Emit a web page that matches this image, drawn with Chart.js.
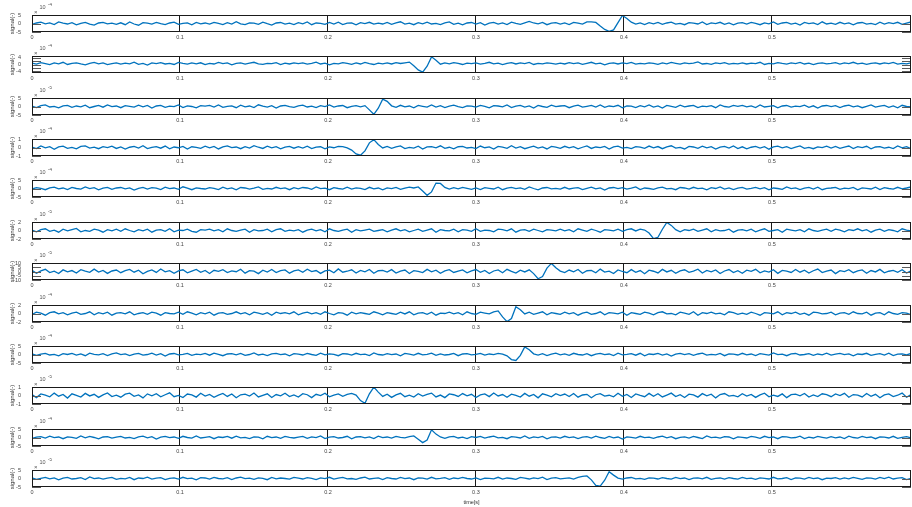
<!DOCTYPE html>
<html>
<head>
<meta charset="utf-8">
<script src="https://cdn.jsdelivr.net/npm/chart.js@4.4.0/dist/chart.umd.min.js"></script>
<style>
  html, body { margin: 0; padding: 0; background: #fff; }
  #wrap { position: relative; width: 912px; height: 507px; overflow: hidden; }
</style>
</head>
<body>
<div id="wrap"></div>
<script>
// 12 stacked channels, sampled every 3 ms (values in units of the axis exponent)
const dt = 0.003;
const tMax = 0.594;
const xTicks = [0, 0.1, 0.2, 0.3, 0.4, 0.5];

const sig1 = [
  -0.5, 0.3, 0.8, -0.2, 0.4, -0.6, 0.9, 0.2, -0.3, 0.5, -0.8, 0.1, 0.6, -0.4, -0.9, 0.3, 0.7, -0.2, 0.2, -0.5,
  0.4, -0.7, 0.9, -0.3, -1.0, 0.5, 0.2, -0.4, 0.6, -0.1, -0.6, 0.3, 0.8, -0.5, 0.1, 0.4, -0.8, 0.6, -0.2, 0.3,
  -0.4, 0.7, 0.1, -0.6, 0.5, -0.3, 1.1, -0.2, -0.7, 0.4, 0.2, -0.5, 0.8, -0.1, -0.9, 0.3, 0.6, -0.4, 0.2, -0.6,
  0.5, -0.2, 0.9, -0.7, 0.3, 0.1, -0.5, 0.6, -0.3, 0.8, -0.6, 0.2, 0.4, -0.8, 0.5, -0.1, 0.7, -0.4, 0.2, -0.3,
  0.6, -0.5, 0.3, 1.0, -0.4, 0.2, -0.7, 0.5, -0.2, 0.8, -0.3, 0.1, -0.6, 0.4, 0.9, -0.5, 0.2, -0.8, 0.3, 0.6,
  -0.3, 0.5, -0.9, 0.2, 0.7, -0.4, 0.3, -0.6, 0.8, 0.1, -0.5, 0.4, 1.2, 0.3, -0.2, 0.6, -0.7, 0.2, 0.5, -0.4,
  0.3, -0.6, 0.7, 0.2, -0.4, 0.9, 1.0, 0.6, -1.5, -3.5, -4.6, -3.8, 0.5, 4.7, 3.0, 0.8, -0.3, 0.4, -0.6, 0.5,
  -0.2, 0.6, -0.5, 0.3, 0.8, -0.4, 0.1, -0.7, 0.5, 0.2, -0.3, 0.9, -0.6, 0.4, -0.1, 0.7, -0.5, 0.3, -0.8, 0.2,
  0.5, -0.3, 0.6, 0.1, -0.7, 0.4, -0.2, 0.9, -0.5, 0.3, 0.7, -0.4, 0.2, -0.9, 0.6, -0.1, 0.4, -0.6, 1.0, -0.3,
  0.2, -0.5, 0.7, -0.2, 0.4, -0.8, 0.3, 0.6, -0.4, 0.1, -0.6, 0.8, -0.3, 0.5, -0.1, 0.7, -0.5, 0.2, 0.9, -0.4
];
const sig2 = [
  0.8, 0.2, 1.1, 0.5, -0.1, 0.9, 0.4, 1.3, 0.0, 0.6, 1.0, 0.3, -0.2, 0.7, 1.2, 0.4, 0.9, -0.1, 0.5, 1.0,
  0.2, 0.8, 0.4, 1.4, 0.1, 0.6, -0.3, 0.9, 0.5, 1.1, 0.3, 0.7, 0.0, 1.2, 0.6, 0.2, 0.9, 0.4, 1.0, -0.1,
  0.7, 0.3, 1.2, 0.5, 0.9, -0.2, 0.6, 1.0, 0.2, 0.8, 1.3, 0.4, 0.1, 0.7, 0.5, 1.1, -0.1, 0.8, 0.3, 0.9,
  0.5, 1.0, 0.2, 0.6, 1.4, 0.3, 0.8, -0.2, 0.7, 0.4, 1.1, 0.6, 0.1, 0.9, 0.3, 1.2, 0.5, 0.0, 0.8, 0.4,
  0.9, 0.3, 1.1, 0.6, 1.0, 1.4, -0.8, -3.2, -4.5, -1.0, 4.5, 2.5, 0.2, 0.9, 0.4, 1.1, 0.6, 0.0, 0.8, 0.5,
  1.0, 0.2, 0.7, 1.3, 0.4, 0.8, -0.1, 0.6, 1.1, 0.3, 0.9, 0.5, 1.2, 0.0, 0.7, 0.4, 1.0, 0.6, 0.2, 0.8,
  0.3, 1.1, 0.5, 0.9, 0.1, 0.7, 1.3, 0.4, 0.8, -0.2, 0.6, 1.0, 0.3, 0.9, 0.5, 1.2, 0.2, 0.7, 0.4, 1.0,
  0.6, 0.1, 0.9, 0.4, 1.2, 0.7, 0.2, 1.0, 0.5, 0.8, 1.5, 0.3, 0.6, 0.1, 0.9, 0.5, 1.1, 0.2, 0.7, 0.4,
  1.0, 0.3, 0.8, 0.5, 1.3, 0.0, 0.7, 0.4, 1.1, 0.6, 0.2, 0.9, 0.5, 1.2, 0.3, 0.8, -0.1, 0.6, 1.0, 0.4,
  0.7, 1.1, 0.2, 0.9, 0.5, 1.3, 0.4, 0.8, 0.1, 0.6, 1.0, 0.3, 0.9, 0.5, 1.2, 0.2, 0.7, 0.4, 1.0, 0.6
];
const sig3 = [
  0.2, -0.6, 0.5, 0.9, -0.3, 0.1, -0.8, 0.4, 0.7, -0.5, 0.3, -0.2, 0.8, -0.7, 0.0, 0.6, -0.4, 0.9, -0.1, 0.3,
  -0.7, 0.5, 0.1, -0.4, 0.8, -0.2, 0.6, -0.9, 0.3, 0.7, -0.5, 0.2, -0.1, 0.9, -0.6, 0.4, 0.0, -0.8, 0.5, 0.2,
  0.6, -0.3, 0.9, -0.5, 0.1, 0.4, -0.7, 0.8, -0.2, 0.3, -0.6, 1.0, 0.2, -0.4, 0.5, -0.9, 0.3, 0.7, -0.1, -0.5,
  0.4, 0.8, -0.3, 0.2, -0.6, 0.5, -0.1, 0.9, -0.4, 0.3, 0.6, -0.7, 0.1, 0.5, -0.2, 0.5, -2.0, -4.6, -1.0, 4.3,
  3.0, 0.4, -0.5, 0.7, -0.2, 0.3, -0.8, 0.6, 0.1, -0.4, 0.9, -0.3, 0.5, -0.6, 0.2, 0.8, -0.1, -0.7, 0.4, 0.2,
  -0.4, 0.6, 0.1, -0.8, 0.5, 0.3, -0.2, 0.9, -0.6, 0.2, 0.7, -0.3, 0.4, -0.9, 0.6, 0.0, -0.5, 0.8, -0.1, 0.3,
  0.5, -0.7, 0.2, 0.8, -0.4, 0.1, 0.6, -0.3, 0.9, -0.5, 0.3, -0.1, 0.7, -0.8, 0.4, 0.2, -0.6, 0.5, -0.2, 0.9,
  -0.3, 0.4, -0.9, 0.6, 0.1, -0.5, 0.8, -0.2, 0.3, 0.7, -0.6, 0.2, -0.1, 0.5, -0.7, 0.9, 0.0, -0.4, 0.6, 0.1,
  0.7, -0.2, 0.4, -0.6, 0.9, -0.3, 0.1, 0.5, -0.8, 0.3, 0.6, -0.4, 0.2, -0.1, 0.8, -0.5, 0.4, -0.9, 0.3, 0.6,
  -0.1, 0.5, -0.6, 0.3, 0.8, -0.2, 0.4, -0.7, 0.1, 0.9, -0.4, 0.2, 0.6, -0.5, 0.3, -0.8, 0.7, 0.0, -0.3, 0.5
];
const sig4 = [
  0.05, -0.12, 0.18, -0.04, 0.10, -0.20, 0.08, 0.15, -0.09, 0.02, -0.16, 0.12, 0.20, -0.07, 0.04, -0.14, 0.09, -0.02, 0.16, -0.11,
  0.07, -0.18, 0.03, 0.14, -0.06, 0.21, -0.13, 0.01, 0.11, -0.08, 0.17, -0.15, 0.06, -0.03, 0.13, -0.19, 0.09, 0.02, -0.10, 0.15,
  -0.05, 0.12, -0.17, 0.08, 0.19, -0.02, 0.06, -0.14, 0.10, -0.07, 0.22, 0.03, -0.11, 0.15, -0.04, 0.09, -0.16, 0.05, 0.13, -0.08,
  0.11, -0.06, 0.16, -0.12, 0.04, 0.09, -0.15, 0.07, -0.03, 0.14, 0.10, -0.05, -0.30, -0.75, -0.90, -0.40, 0.55, 0.92, 0.35, -0.05,
  0.12, -0.09, 0.06, 0.18, -0.13, 0.02, -0.07, 0.15, -0.18, 0.08, 0.11, -0.04, 0.20, -0.10, 0.03, -0.15, 0.09, 0.14, -0.06, 0.01,
  -0.12, 0.17, -0.03, 0.08, -0.19, 0.13, 0.05, -0.09, 0.21, -0.06, 0.10, -0.14, 0.02, 0.16, -0.08, 0.07, -0.17, 0.12, 0.04, -0.10,
  0.14, -0.05, 0.09, -0.16, 0.03, 0.19, -0.11, 0.06, -0.02, 0.12, -0.18, 0.08, 0.15, -0.07, 0.01, -0.13, 0.10, 0.05, -0.09, 0.17,
  -0.04, 0.11, -0.14, 0.07, 0.20, -0.08, 0.02, -0.17, 0.13, 0.06, -0.10, 0.16, -0.05, 0.09, -0.19, 0.04, 0.12, -0.07, 0.18, -0.12,
  0.08, -0.15, 0.03, 0.13, -0.06, 0.10, -0.20, 0.07, 0.15, -0.03, 0.11, -0.12, 0.05, 0.19, -0.09, 0.02, -0.14, 0.08, -0.01, 0.16,
  -0.07, 0.12, -0.11, 0.04, 0.17, -0.13, 0.09, -0.02, 0.14, -0.16, 0.06, 0.11, -0.08, 0.03, -0.12, 0.18, -0.05, 0.10, -0.15, 0.07
];
const sig5 = [
  -0.3, 0.5, 0.1, -0.7, 0.4, 0.8, -0.2, 0.3, -0.6, 0.6, 0.0, -0.4, 0.9, -0.1, 0.5, -0.8, 0.2, 0.7, -0.5, 0.3,
  0.6, -0.2, 0.4, -0.9, 0.1, 0.7, -0.3, 0.5, 0.2, -0.6, 0.8, -0.1, 0.3, -0.5, 1.0, 0.2, -0.7, 0.4, 0.0, -0.3,
  0.5, 0.1, -0.6, 0.8, -0.2, 0.4, -0.8, 0.6, 0.3, -0.4, 0.2, 0.9, -0.5, 0.1, -0.3, 0.7, -0.1, 0.4, -0.7, 0.5,
  -0.2, 0.6, 0.3, -0.5, 0.9, -0.1, 0.2, -0.7, 0.5, 0.0, -0.4, 0.8, -0.3, 0.4, 0.1, -0.6, 0.7, -0.2, 0.3, -0.8,
  0.4, -0.1, 0.6, -0.5, 0.2, 0.8, 0.3, 0.9, -1.5, -4.0, -2.0, 3.2, 3.0, 0.6, -0.4, 0.5, -0.2, 0.7, 0.1, -0.5,
  0.3, -0.6, 0.5, 0.1, -0.3, 0.8, -0.7, 0.2, 0.6, -0.1, 0.4, -0.5, 0.9, 0.0, -0.8, 0.3, 0.6, -0.2, 0.1, -0.4,
  0.7, -0.3, 0.2, 0.5, -0.6, 0.1, 0.8, -0.2, 0.4, -0.9, 0.3, 0.6, -0.1, 0.5, -0.4, 0.2, 0.9, -0.6, 0.3, 0.0,
  -0.5, 0.4, 0.8, -0.2, 0.1, -0.7, 0.6, 0.3, -0.4, 0.7, -0.1, 0.2, -0.8, 0.5, 0.0, 0.9, -0.3, 0.4, -0.6, 0.2,
  0.6, -0.4, 0.1, 0.7, -0.2, 0.5, -0.8, 0.3, 0.0, -0.5, 0.9, -0.1, 0.4, -0.6, 0.2, 0.6, -0.3, 0.8, -0.7, 0.1,
  0.3, 0.7, -0.5, 0.2, -0.1, 0.6, -0.8, 0.4, 0.1, -0.3, 0.8, -0.6, 0.5, 0.0, -0.4, 0.7, -0.2, 0.3, 0.9, -0.5
];
const sig6 = [
  0.1, -0.3, 0.2, 0.4, -0.2, 0.1, -0.4, 0.3, -0.1, 0.2, 0.5, -0.3, 0.0, -0.2, 0.3, 0.1, -0.4, 0.2, -0.1, 0.3,
  -0.2, 0.4, 0.0, -0.3, 0.2, -0.1, 0.3, -0.4, 0.1, 0.2, -0.2, 0.4, -0.3, 0.1, 0.0, 0.3, -0.2, -0.4, 0.2, 0.1,
  0.3, -0.1, 0.2, -0.3, 0.4, 0.0, -0.2, 0.1, 0.3, -0.4, 0.2, -0.1, 0.0, 0.3, -0.3, 0.2, 0.4, -0.2, 0.1, -0.1,
  0.2, -0.4, 0.1, 0.3, -0.1, 0.2, -0.3, 0.4, 0.0, -0.2, 0.1, 0.3, -0.4, 0.2, -0.1, 0.1, 0.3, -0.2, 0.0, 0.2,
  -0.3, 0.1, 0.4, -0.1, 0.2, -0.3, 0.0, 0.3, -0.2, 0.1, 0.4, -0.4, 0.2, 0.0, -0.1, 0.3, -0.3, 0.2, 0.1, -0.2,
  0.4, -0.2, 0.1, 0.0, -0.3, 0.3, 0.2, -0.1, 0.4, -0.4, 0.1, 0.2, -0.2, 0.3, 0.0, -0.3, 0.2, 0.1, -0.1, 0.3,
  -0.1, 0.2, -0.3, 0.4, 0.1, -0.2, 0.3, 0.0, -0.4, 0.2, 0.1, -0.1, 0.3, -0.2, 0.2, 0.4, -0.1, 0.3, 0.1, -0.6,
  -1.9, -1.6, 0.3, 1.9, 1.2, 0.2, -0.3, 0.2, 0.0, 0.3, -0.2, 0.1, 0.4, -0.3, 0.2, -0.1, 0.0, 0.3, -0.4, 0.1,
  0.2, -0.1, 0.3, -0.3, 0.1, 0.4, -0.2, 0.0, 0.2, -0.4, 0.3, 0.1, -0.1, 0.2, -0.3, 0.4, 0.0, -0.2, 0.1, 0.3,
  -0.2, 0.3, 0.1, -0.3, 0.2, 0.0, 0.4, -0.1, 0.2, -0.4, 0.1, 0.3, -0.2, 0.2, 0.0, -0.3, 0.4, 0.1, -0.1, 0.2
];
const sig7 = [
  1.5, -2.0, 0.8, 2.6, -1.2, 0.3, -2.4, 1.9, -0.5, 1.1, -1.8, 2.2, 0.4, -1.0, 2.8, -0.7, 1.3, -2.2, 0.6, 1.7,
  -1.4, 0.9, 2.4, -0.8, 1.6, -2.6, 0.2, 1.8, -1.1, 2.9, -0.4, 1.0, -2.1, 0.7, 2.0, -1.6, 0.5, 2.5, -0.9, 1.2,
  -2.3, 1.4, 0.1, 2.1, -1.3, 0.8, -0.3, 2.7, -1.9, 1.0, 0.4, -2.5, 1.6, -0.6, 2.3, -1.2, 0.9, 1.9, -2.0, 0.6,
  1.8, -1.0, 2.6, -0.2, 1.1, -2.2, 0.7, 1.5, -1.5, 3.0, -0.8, 0.3, 2.0, -1.7, 1.2, -0.4, 2.4, -2.1, 0.9, 1.4,
  -0.6, 2.2, -1.8, 0.5, 1.7, -2.4, 1.0, 0.2, -1.3, 2.5, -0.3, 1.6, -2.0, 0.8, 2.1, -1.1, 0.4, 1.9, -1.6, 0.7,
  2.3, -0.9, 1.3, -2.3, 0.6, 1.8, -1.4, 2.6, 0.1, -1.9, 1.5, -0.5, 2.0, -2.5, -8.5, -6.0, 4.0, 9.5, 4.5, 0.5,
  -1.2, 1.7, -0.4, 2.4, -2.0, 0.9, 1.3, -1.5, 2.8, -0.7, 0.5, -2.3, 1.9, 0.0, -1.4, 2.2, -0.9, 1.1, -2.6, 1.6,
  0.3, -1.7, 2.5, -0.5, 1.4, -2.1, 0.8, 2.0, -1.0, 0.4, 2.7, -1.8, 1.2, -0.3, 1.9, -2.4, 0.6, 2.3, -1.3, 0.9,
  -2.0, 1.5, 0.2, 2.6, -1.5, 0.7, -0.6, 2.1, -2.2, 1.3, 0.5, -1.1, 2.4, -0.8, 1.6, -1.9, 0.9, 2.9, -1.2, 0.4,
  1.7, -2.5, 1.0, -0.2, 2.2, -1.4, 0.6, 1.8, -2.1, 1.1, -0.5, 2.5, -1.6, 0.3, 1.4, -0.9, 2.0, -1.8, 0.8, 1.5
];
const sig8 = [
  -0.2, 0.3, 0.1, -0.4, 0.2, 0.4, -0.1, 0.2, -0.3, 0.1, 0.3, -0.2, 0.0, 0.4, -0.3, 0.2, -0.1, 0.3, -0.4, 0.1,
  0.2, -0.1, 0.4, -0.3, 0.0, 0.2, -0.2, 0.3, 0.1, -0.4, 0.2, 0.0, -0.1, 0.3, -0.2, 0.4, 0.1, -0.3, 0.2, -0.1,
  0.3, -0.4, 0.1, 0.2, -0.2, 0.0, 0.4, -0.1, 0.2, -0.3, 0.3, 0.1, -0.2, 0.2, -0.4, 0.3, 0.0, 0.2, -0.1, 0.4,
  -0.3, 0.1, 0.3, -0.1, 0.2, -0.2, 0.4, 0.0, -0.3, 0.2, 0.1, -0.4, 0.3, -0.1, 0.2, 0.0, -0.2, 0.4, 0.1, -0.3,
  0.2, 0.0, -0.2, 0.3, -0.1, 0.4, -0.3, 0.1, 0.2, -0.2, 0.3, -0.4, 0.1, 0.0, 0.3, -0.1, 0.2, -0.3, 0.4, 0.0,
  -0.2, 0.3, 0.1, -0.1, 0.4, 0.6, -0.8, -1.9, -1.2, 1.6, 0.9, -0.1, 0.3, -0.2, 0.1, 0.4, -0.3, 0.2, 0.0, -0.2,
  0.3, -0.1, 0.2, -0.4, 0.1, 0.3, -0.2, 0.0, 0.4, -0.3, 0.2, 0.1, -0.1, 0.3, -0.4, 0.2, 0.0, -0.2, 0.3, 0.1,
  -0.3, 0.2, 0.4, -0.1, 0.0, -0.3, 0.3, 0.1, -0.2, 0.4, -0.4, 0.2, 0.0, 0.3, -0.1, 0.1, -0.3, 0.4, 0.2, -0.2,
  0.1, -0.2, 0.3, 0.0, -0.4, 0.2, 0.1, -0.1, 0.4, -0.3, 0.2, 0.0, 0.3, -0.2, 0.1, -0.4, 0.3, 0.2, -0.1, 0.0,
  0.3, -0.3, 0.1, 0.2, -0.2, 0.4, 0.0, -0.1, 0.3, -0.4, 0.1, 0.2, -0.3, 0.4, 0.0, -0.2, 0.2, 0.1, -0.3, 0.3
];
const sig9 = [
  0.4, -0.5, 0.2, 0.7, -0.3, 0.1, -0.8, 0.5, 0.0, 0.6, -0.4, 0.3, -0.7, 0.8, 0.1, -0.2, 0.5, -0.6, 0.3, 0.9,
  -0.1, 0.4, -0.6, 0.2, 0.7, -0.4, 0.0, 0.8, -0.3, 0.5, -0.9, 0.3, 0.6, -0.2, 0.1, 0.7, -0.5, 0.2, -0.1, 0.6,
  -0.4, 0.8, 0.1, -0.7, 0.3, 0.5, -0.2, 0.6, -0.5, 0.0, 0.9, -0.3, 0.2, -0.6, 0.4, 0.7, -0.1, 0.3, -0.8, 0.5,
  0.2, -0.3, 0.6, 0.0, -0.5, 0.8, -0.2, 0.4, 0.1, -0.7, 0.5, 0.3, -0.4, 0.7, -0.1, 0.2, -0.6, 0.9, 0.0, -0.3,
  0.5, -0.1, 0.3, -0.8, 0.6, 0.2, -0.4, 0.7, -0.2, 0.1, 0.8, -0.5, 0.4, -0.3, 0.0, 0.6, -0.7, 0.3, 0.5, -0.2,
  0.1, 0.6, -0.4, 0.3, -0.1, 0.7, 0.2, -0.8, -3.0, -3.5, -0.5, 4.5, 2.8, 0.4, -0.3, 0.5, -0.6, 0.2, 0.8, -0.2,
  0.4, -0.5, 0.7, 0.0, -0.3, 0.5, -0.7, 0.2, 0.6, -0.1, 0.3, -0.6, 0.8, -0.2, 0.1, 0.5, -0.4, 0.7, -0.8, 0.3,
  0.0, 0.6, -0.3, 0.4, -0.9, 0.2, 0.7, -0.1, 0.5, -0.5, 0.3, 0.8, -0.4, 0.1, -0.2, 0.6, -0.7, 0.4, 0.2, -0.3,
  0.7, -0.2, 0.3, -0.6, 0.5, 0.1, -0.4, 0.9, -0.1, 0.2, -0.7, 0.4, 0.6, -0.3, 0.0, 0.5, -0.5, 0.3, -0.2, 0.8,
  -0.4, 0.2, 0.6, -0.1, 0.4, -0.8, 0.3, 0.0, 0.7, -0.5, 0.1, 0.5, -0.3, 0.8, -0.6, 0.2, 0.4, -0.2, 0.6, -0.1
];
const sig10 = [
  0.10, -0.25, 0.18, 0.05, -0.15, 0.28, -0.08, 0.12, -0.30, 0.20, 0.02, -0.18, 0.25, -0.05, 0.14, -0.22, 0.08, 0.30, -0.12, 0.03,
  -0.20, 0.15, 0.27, -0.10, 0.06, -0.28, 0.19, -0.03, 0.22, -0.16, 0.09, 0.31, -0.14, 0.01, -0.24, 0.17, 0.07, -0.19, 0.26, -0.06,
  0.13, -0.21, 0.04, 0.24, -0.11, 0.18, -0.27, 0.08, 0.15, -0.07, 0.29, -0.17, 0.02, 0.20, -0.23, 0.11, -0.04, 0.26, -0.13, 0.06,
  -0.18, 0.22, 0.09, -0.25, 0.14, -0.02, 0.27, -0.15, 0.05, 0.19, -0.09, 0.12, 0.25, 0.05, -0.60, -0.92, 0.20, 0.98, 0.40, -0.10,
  0.15, -0.22, 0.08, 0.26, -0.14, 0.03, -0.19, 0.21, -0.06, 0.12, 0.28, -0.17, 0.05, -0.25, 0.18, 0.09, -0.11, 0.23, -0.03, 0.14,
  -0.24, 0.07, 0.19, -0.13, 0.29, -0.05, 0.11, -0.21, 0.16, 0.02, -0.18, 0.25, -0.08, 0.13, -0.27, 0.20, 0.04, -0.15, 0.22, -0.02,
  0.17, -0.12, 0.24, -0.20, 0.06, 0.14, -0.26, 0.09, 0.21, -0.07, 0.03, -0.16, 0.27, -0.10, 0.12, -0.23, 0.18, 0.01, -0.14, 0.25,
  -0.09, 0.20, -0.17, 0.05, 0.28, -0.12, 0.10, -0.24, 0.15, 0.07, -0.19, 0.22, -0.04, 0.16, -0.28, 0.11, 0.23, -0.08, 0.02, -0.16,
  0.21, -0.06, 0.13, -0.22, 0.08, 0.27, -0.15, 0.04, -0.11, 0.19, -0.25, 0.10, 0.16, -0.03, 0.24, -0.18, 0.06, -0.13, 0.20, 0.09,
  -0.14, 0.18, -0.01, 0.25, -0.20, 0.11, 0.05, -0.17, 0.23, -0.09, 0.14, -0.26, 0.07, 0.19, -0.12, 0.03, 0.28, -0.21, 0.10, -0.05
];
const sig11 = [
  -0.6, 0.2, 0.5, -0.3, 0.8, -0.1, 0.3, -0.7, 0.4, 0.1, -0.5, 0.9, -0.2, 0.6, 0.0, -0.8, 0.3, 0.5, -0.4, 0.2,
  0.7, -0.3, 0.1, -0.6, 0.4, 0.8, -0.2, 0.5, -0.9, 0.2, 0.6, -0.1, 0.3, -0.5, 0.7, 0.0, -0.4, 0.9, -0.3, 0.1,
  0.5, -0.7, 0.3, 0.0, 0.6, -0.4, 0.8, -0.2, 0.1, -0.6, 0.4, 0.2, -0.8, 0.7, -0.1, 0.3, -0.5, 0.6, 0.1, -0.3,
  0.2, 0.6, -0.5, 0.4, -0.1, 0.9, -0.6, 0.2, 0.5, -0.3, 0.0, 0.7, -0.8, 0.3, 0.5, -0.2, 0.4, -0.6, 0.8, -0.1,
  0.3, -0.4, 0.6, 0.1, -0.2, 0.5, 0.9, -1.0, -3.0, -1.5, 4.5, 2.0, 0.3, -0.5, 0.4, 0.7, -0.3, 0.2, -0.6, 0.5,
  0.0, 0.6, -0.4, 0.3, 0.8, -0.2, 0.1, -0.7, 0.5, 0.2, -0.3, 0.9, -0.5, 0.4, -0.1, 0.6, -0.8, 0.2, 0.3, -0.4,
  0.7, -0.1, 0.4, -0.6, 0.2, 0.5, -0.3, 0.8, 0.0, -0.5, 0.6, -0.2, 0.3, -0.9, 0.4, 0.1, -0.4, 0.7, -0.1, 0.2,
  -0.5, 0.3, 0.8, -0.2, 0.5, -0.7, 0.1, 0.4, -0.3, 0.6, 0.0, -0.6, 0.9, -0.1, 0.2, -0.4, 0.5, 0.3, -0.8, 0.4,
  0.1, -0.3, 0.6, 0.2, -0.5, 0.7, -0.1, 0.3, -0.7, 0.5, 0.4, -0.2, 0.0, 0.8, -0.6, 0.2, -0.3, 0.6, 0.1, -0.4,
  0.5, -0.2, 0.3, -0.6, 0.8, 0.0, -0.4, 0.6, -0.1, 0.3, -0.7, 0.4, 0.2, -0.3, 0.7, -0.5, 0.1, 0.5, -0.2, 0.4
];
const sig12 = [
  0.3, -0.5, 0.1, 0.7, -0.2, 0.4, -0.8, 0.2, 0.6, -0.3, 0.0, 0.5, -0.6, 0.9, -0.1, 0.3, -0.4, 0.2, 0.7, -0.5,
  0.1, -0.2, 0.6, -0.7, 0.3, 0.0, 0.8, -0.4, 0.2, 0.5, -0.6, 0.1, 0.4, -0.3, 0.7, -0.1, 0.2, -0.8, 0.5, 0.3,
  -0.4, 0.6, 0.0, -0.2, 0.5, -0.6, 0.3, 0.8, -0.1, 0.2, -0.5, 0.4, 0.1, -0.7, 0.6, -0.2, 0.3, 0.0, -0.4, 0.7,
  0.2, -0.3, 0.5, 0.1, -0.6, 0.4, -0.1, 0.7, -0.4, 0.2, 0.6, -0.2, 0.0, -0.5, 0.3, 0.8, -0.3, 0.1, 0.4, -0.6,
  0.5, 0.0, -0.3, 0.6, -0.1, 0.3, -0.7, 0.4, 0.2, -0.4, 0.7, -0.2, 0.1, 0.5, -0.5, 0.3, -0.1, 0.6, 0.0, -0.3,
  0.4, -0.6, 0.2, 0.1, -0.2, 0.7, -0.4, 0.3, 0.0, -0.5, 0.6, 0.2, -0.3, 0.4, -0.1, 0.8, -0.6, 0.2, 0.5, -0.2,
  0.1, 0.4, -0.3, 0.6, 1.2, 1.5, -0.8, -4.0, -4.5, -1.0, 4.0, 2.0, 0.2, -0.4, 0.3, 0.6, -0.2, 0.1, -0.5, 0.4,
  0.2, -0.3, 0.5, 0.0, -0.4, 0.6, -0.1, 0.3, -0.6, 0.2, 0.4, -0.2, 0.7, -0.5, 0.1, 0.3, -0.3, 0.5, 0.0, -0.4,
  0.6, -0.1, 0.2, -0.5, 0.4, 0.1, -0.3, 0.7, -0.2, 0.0, 0.5, -0.6, 0.3, 0.2, -0.4, 0.6, -0.1, 0.3, -0.7, 0.2,
  0.0, 0.5, -0.3, 0.4, -0.2, 0.7, 0.1, -0.5, 0.3, 0.2, -0.4, 0.6, -0.1, 0.8, -0.3, 0.2, 0.5, -0.6, 0.1, 0.4
];

const signals = [sig1, sig2, sig3, sig4, sig5, sig6, sig7, sig8, sig9, sig10, sig11, sig12];
const yLimits = [5, 5, 5, 1, 5, 2, 10, 2, 5, 1, 5, 5];
const yTicks = [
  [-5, 0, 5], [-4, -2, 0, 2, 4], [-5, 0, 5], [-1, 0, 1], [-5, 0, 5], [-2, 0, 2],
  [-10, -5, 0, 5, 10], [-2, 0, 2], [-5, 0, 5], [-1, 0, 1], [-5, 0, 5], [-5, 0, 5]
];
const yTickLabels = [
  [-5, 0, 5], [-4, 0, 4], [-5, 0, 5], [-1, 0, 1], [-5, 0, 5], [-2, 0, 2],
  [-10, -5, 0, 5, 10], [-2, 0, 2], [-5, 0, 5], [-1, 0, 1], [-5, 0, 5], [-5, 0, 5]
];
const yExponents = [-4, -4, -5, -4, -4, -5, -5, -4, -4, -5, -4, -5];

const FONT = "'Liberation Sans', Arial, Helvetica, sans-serif";
const PAD_TOP = 12;   // room for the x10^n label
const BOX_H = 17;
const ROW_STEP = 41.36;

// box, inner y ticks, exponent, y label (MATLAB look)
const matlabAxes = {
  id: 'matlabAxes',
  afterDraw(chart, args, opts) {
    const { ctx, chartArea: a } = chart;
    const row = opts.row;
    const ys = chart.scales.y;
    ctx.save();

    ctx.strokeStyle = '#5a5a5a';
    ctx.lineWidth = 1;
    yTicks[row].forEach(v => {
      const py = Math.round(ys.getPixelForValue(v)) + 0.5;
      ctx.beginPath();
      ctx.moveTo(a.left, py); ctx.lineTo(a.left + 9, py);
      ctx.moveTo(a.right - 9, py); ctx.lineTo(a.right, py);
      ctx.stroke();
    });

    ctx.strokeStyle = '#1a1a1a';
    ctx.strokeRect(a.left + 0.5, a.top + 0.5, a.width - 1, a.height - 1);

    ctx.fillStyle = '#555';
    ctx.textBaseline = 'alphabetic';
    ctx.textAlign = 'left';
    ctx.font = `6px ${FONT}`;
    ctx.fillText('\u00d7', a.left + 2, a.top - 1.5);
    ctx.font = `5.5px ${FONT}`;
    ctx.fillText('10', a.left + 7.5, a.top - 6);
    ctx.font = `4.5px ${FONT}`;
    ctx.fillText(String(yExponents[row]), a.left + 16, a.top - 9);

    ctx.fillStyle = '#333';
    ctx.font = `6px ${FONT}`;
    ctx.translate(12, a.top + a.height / 2);
    ctx.rotate(-Math.PI / 2);
    ctx.textAlign = 'center';
    ctx.textBaseline = 'middle';
    ctx.fillText('signal(-)', 0, 0);
    ctx.restore();

    if (opts.last) {
      ctx.save();
      ctx.fillStyle = '#333';
      ctx.font = `5.5px ${FONT}`;
      ctx.textAlign = 'center';
      ctx.textBaseline = 'middle';
      ctx.fillText('time[s]', (a.left + a.right) / 2, a.bottom + 15.5);
      ctx.restore();
    }
  }
};

const wrap = document.getElementById('wrap');

signals.forEach((sig, i) => {
  const boxTop = Math.round(15 + i * ROW_STEP);
  const last = i === signals.length - 1;
  const H = last ? 52 : 40;
  const cv = document.createElement('canvas');
  cv.width = 912;
  cv.height = H;
  cv.style.cssText = `position:absolute;left:0;top:${boxTop - PAD_TOP}px;width:912px;height:${H}px;`;
  wrap.appendChild(cv);

  new Chart(cv, {
    type: 'line',
    data: {
      datasets: [{
        data: sig.map((v, k) => ({ x: k * dt, y: v })),
        borderColor: '#0072BD',
        borderWidth: 1.3,
        pointRadius: 0,
        tension: 0,
        fill: false
      }]
    },
    options: {
      responsive: false,
      animation: false,
      devicePixelRatio: 1,
      events: [],
      layout: { padding: { top: PAD_TOP, right: 1, left: 0, bottom: 0 } },
      plugins: {
        legend: { display: false },
        tooltip: { enabled: false },
        matlabAxes: { row: i, last: last }
      },
      scales: {
        x: {
          type: 'linear',
          min: 0,
          max: tMax,
          afterBuildTicks: s => { s.ticks = xTicks.map(v => ({ value: v })); },
          afterFit: s => { s.height = H - PAD_TOP - BOX_H; },
          grid: { color: '#1a1a1a', lineWidth: 1, drawTicks: false },
          border: { display: false },
          ticks: {
            padding: 2,
            color: '#444',
            font: { family: FONT, size: 5.5 },
            maxRotation: 0,
            autoSkip: false,
            callback: v => String(v)
          }
        },
        y: {
          min: -yLimits[i],
          max: yLimits[i],
          afterBuildTicks: s => { s.ticks = yTicks[i].map(v => ({ value: v })); },
          afterFit: s => { s.width = 32; },
          grid: { display: false },
          border: { display: false },
          ticks: {
            padding: 3,
            color: '#444',
            font: { family: FONT, size: 5.5 },
            autoSkip: false,
            callback: v => yTickLabels[i].includes(v) ? String(v) : ''
          }
        }
      }
    },
    plugins: [matlabAxes]
  });
});
</script>
</body>
</html>
